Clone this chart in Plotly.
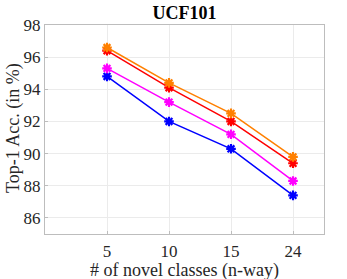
import plotly.graph_objects as go

categories = ["5", "10", "15", "24"]
series_names = ["A", "B", "C", "D"]
blue = [94.8, 92.0, 90.3, 87.4]
magenta = [95.3, 93.2, 91.2, 88.3]
red = [96.4, 94.1, 92.0, 89.4]
orange = [96.6, 94.4, 92.5, 89.8]
y_ticks = [86, 88, 90, 92, 94, 96, 98]

colors = ["#0000FF", "#FF00FF", "#FF0000", "#FF8000"]
xpos = [1, 2, 3, 4]

fig = go.Figure()
for name, vals, c in zip(series_names, [blue, magenta, red, orange], colors):
    fig.add_trace(go.Scatter(
        x=xpos, y=vals, mode="lines+markers", name=name,
        line=dict(color=c, width=1.5),
        marker=dict(symbol="asterisk-open", size=8, color=c, line=dict(color=c, width=2.2)),
        showlegend=False))

font = "Liberation Serif"
L, R, T, B = 45, 23, 25, 45
W, H = 347, 279
pw, ph = W - L - R, H - T - B
fig.update_layout(
    width=W, height=H,
    margin=dict(l=L, r=R, t=T, b=B, autoexpand=False),
    paper_bgcolor="white", plot_bgcolor="white",
    font=dict(family=font, size=17, color="#262626"),
    title=dict(text="<b>UCF101</b>", x=(L + pw / 2) / W, xanchor="center", y=1 - 13 / H, yanchor="middle",
               font=dict(family=font, size=18, color="black")),
    xaxis=dict(range=[0, 4.5], tickvals=xpos, ticktext=categories,
               showgrid=True, gridcolor="#EBEBEB", gridwidth=1,
               showline=True, linecolor="#BDBDBD", mirror=True, linewidth=1,
               ticks="inside", ticklen=3, tickcolor="#BDBDBD",
               zeroline=False, automargin=False, ticklabelstandoff=2),
    yaxis=dict(range=[85, 98], tickvals=y_ticks,
               showgrid=True, gridcolor="#EBEBEB", gridwidth=1,
               showline=True, linecolor="#BDBDBD", mirror=True, linewidth=1,
               ticks="inside", ticklen=3, tickcolor="#BDBDBD",
               zeroline=False, automargin=False, ticklabelstandoff=0),
    annotations=[
        dict(text="# of novel classes (n-way)", xref="paper", yref="paper",
             x=0.5, y=(234 - 270.5) / ph, xanchor="center", yanchor="middle",
             showarrow=False, font=dict(family=font, size=18, color="#262626")),
        dict(text="Top-1 Acc. (in %)", xref="paper", yref="paper",
             x=(13 - L) / pw, y=(234 - 128) / ph, xanchor="center", yanchor="middle",
             textangle=-90, showarrow=False, font=dict(family=font, size=18, color="#262626")),
    ],
)
fig.write_html("out.html", config={"displayModeBar": False},
               post_script="document.body.style.margin='0px';document.body.style.overflow='hidden';")
